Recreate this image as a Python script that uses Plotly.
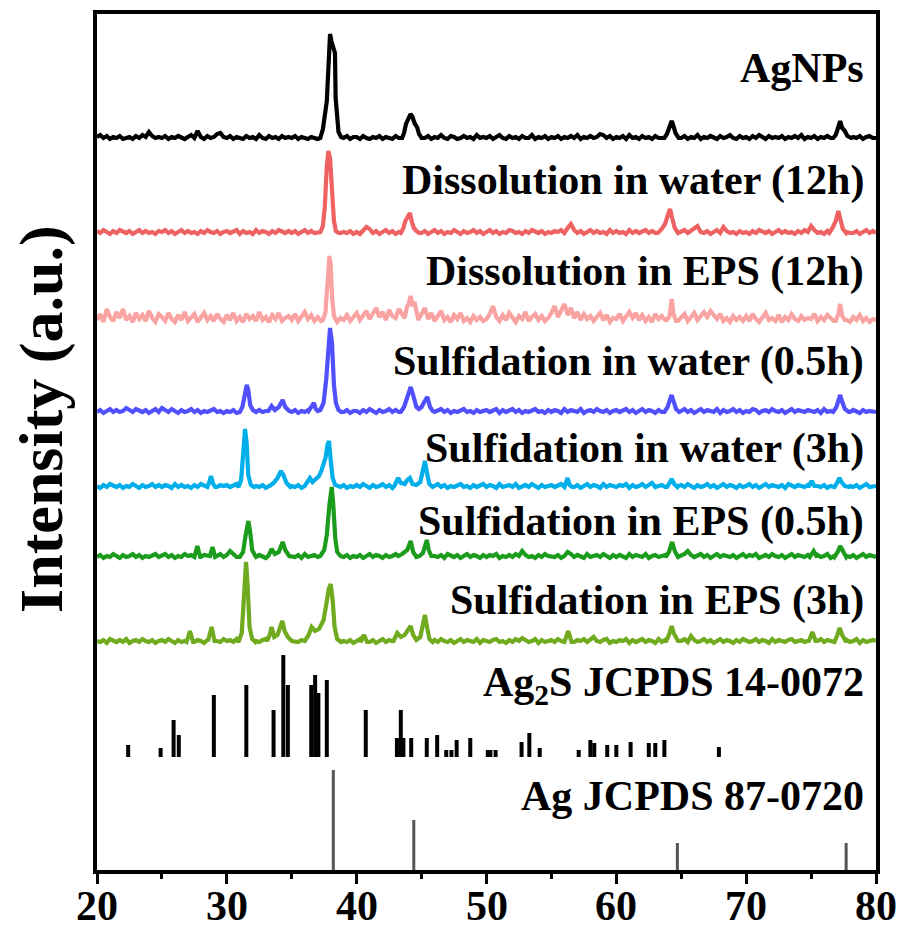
import plotly.graph_objects as go

# 2-theta grid for the background readings (20..80 deg, 0.25 deg step)
STEP = 0.25

names = [
    "AgNPs",
    "Dissolution in water (12h)",
    "Dissolution in EPS (12h)",
    "Sulfidation in water (0.5h)",
    "Sulfidation in water (3h)",
    "Sulfidation in EPS (0.5h)",
    "Sulfidation in EPS (3h)",
]
colors = ["#000000", "#EE6262", "#F9A3A3", "#5050FF", "#00AEEA", "#1C9C1C", "#70AA1E"]
offsets = [729, 634, 544, 455, 380, 310, 225]
label_y = [802, 690, 599, 509, 422, 349, 270]

# background intensity (a.u.), one row per 5 degrees
bg_agnps = [
    4,6,3,5,2,4,3,5,2,3,4,2,5,3,6,4,9,5,3,4,
    3,5,2,4,3,5,3,2,4,6,3,10,4,2,5,3,4,7,8,4,
    3,5,2,4,3,2,5,3,4,2,6,3,2,5,3,4,2,5,3,4,
    3,5,2,4,3,2,4,3,2,0,0,0,0,0,0,0,3,5,2,4,
    4,2,5,3,2,4,3,5,2,4,3,2,5,3,0,0,0,0,0,0,
    0,3,5,2,4,3,6,3,2,5,4,2,3,5,3,4,2,6,3,4,
    3,5,2,4,6,3,2,5,3,4,2,5,3,3,6,2,4,3,5,2,
    4,3,5,2,4,3,5,3,6,2,4,3,5,3,4,7,6,3,5,2,
    4,3,5,2,6,3,4,2,5,3,4,2,5,3,3,0,0,0,0,0,
    3,5,2,4,3,6,2,4,3,5,4,2,5,3,4,6,3,2,5,3,
    4,2,5,3,6,4,2,5,3,4,3,5,2,4,3,5,3,6,2,4,
    3,5,2,4,3,5,3,0,0,0,0,0,0,4,3,5,2,4,5,3,
    3]
bg_dis_w = [
    5,3,6,4,2,5,3,6,4,3,5,2,4,6,3,5,3,4,2,5,
    4,6,3,5,2,4,6,3,5,3,4,2,5,3,6,4,3,5,2,4,
    5,3,4,6,2,5,3,4,2,6,3,5,4,2,5,3,6,4,3,5,
    3,5,2,4,6,3,5,3,3,0,0,0,0,0,0,3,4,3,5,2,
    4,2,5,9,7,3,5,2,4,6,3,5,2,4,0,0,0,0,0,0,
    3,5,2,4,6,3,5,2,4,3,6,4,2,5,3,4,6,3,5,2,
    4,6,3,5,2,4,3,6,5,3,4,2,5,3,6,4,3,5,2,4,
    3,5,4,6,3,8,12,6,3,5,2,4,6,3,5,3,4,2,6,3,
    5,3,4,2,6,3,5,3,4,6,3,5,3,0,0,0,0,0,0,0,
    4,6,3,5,8,10,4,3,5,2,4,6,3,9,5,3,4,2,5,3,
    4,2,5,3,6,4,3,5,2,4,6,3,5,3,4,2,5,3,6,4,
    10,6,3,4,2,5,0,0,0,0,0,4,3,3,5,2,4,6,3,5,
    3]
bg_dis_e = [
    6,12,4,17,9,5,14,8,17,6,10,4,13,7,11,5,15,8,4,12,
    9,5,13,7,4,11,6,14,5,9,12,4,8,13,6,10,5,12,7,4,
    11,6,13,5,9,4,12,7,10,5,14,6,9,4,11,7,13,5,8,10,
    6,12,5,9,14,7,11,5,9,5,0,0,0,0,4,8,6,11,5,9,
    13,6,10,15,7,12,18,9,14,6,16,10,8,17,11,0,0,0,0,0,
    12,18,7,13,5,10,15,6,9,4,11,7,13,5,8,4,10,6,9,5,
    7,12,20,9,5,11,6,13,8,4,10,7,14,5,9,12,6,10,5,8,
    13,20,9,16,22,11,18,8,14,6,12,7,10,5,9,13,6,11,4,8,
    7,12,5,10,14,8,13,6,11,5,9,4,12,7,10,6,0,0,0,5,
    8,12,5,9,13,6,10,14,9,15,11,7,12,5,8,4,10,6,9,5,
    10,5,12,7,4,9,13,6,8,5,11,4,9,6,12,7,5,10,6,8,
    7,12,5,9,6,11,8,5,0,0,0,6,4,9,6,11,5,8,4,7,
    6]
bg_sul_w05 = [
    3,5,2,4,6,3,5,3,4,7,5,3,6,4,3,5,2,4,6,3,
    7,5,3,6,4,2,5,3,4,6,3,5,2,4,3,5,6,3,4,2,
    4,3,5,2,0,0,0,0,0,3,5,3,4,0,0,0,0,0,0,0,
    3,5,2,4,3,5,0,0,0,0,0,0,0,0,0,0,3,5,2,4,
    4,2,5,3,6,4,2,5,3,4,6,3,5,3,0,0,0,0,0,0,
    0,0,0,0,0,4,6,3,5,2,4,3,5,6,3,4,2,5,3,4,
    5,3,4,6,2,5,3,4,6,3,5,2,4,3,5,6,3,4,2,5,
    3,5,4,2,6,3,5,4,3,6,2,4,5,3,6,4,3,5,2,4,
    5,3,4,6,3,5,2,4,6,3,5,4,2,5,3,0,0,0,0,0,
    4,6,3,5,2,4,6,3,5,4,3,6,2,5,3,4,6,3,5,2,
    4,3,6,5,2,4,5,3,6,4,3,5,2,4,6,3,5,4,3,5,
    4,3,5,2,6,3,4,0,0,0,0,0,3,5,4,2,5,3,4,3,
    3]
bg_sul_w3 = [
    4,2,5,3,6,4,3,5,2,4,3,6,4,2,5,3,4,6,3,5,
    3,5,4,2,6,3,5,3,4,2,5,3,6,4,0,0,0,3,5,4,
    5,3,4,6,0,0,0,0,0,4,3,5,2,4,0,0,0,0,0,0,
    4,3,5,2,0,0,0,0,0,0,0,0,0,0,0,3,5,2,4,3,
    5,3,6,4,2,5,3,4,6,3,5,2,0,0,0,0,0,0,0,0,
    0,0,0,0,4,6,3,5,2,4,3,5,6,3,4,2,5,3,4,6,
    3,5,4,2,6,3,4,5,3,6,2,4,5,3,6,4,2,5,3,4,
    5,3,4,6,0,0,0,3,5,2,4,6,3,5,4,2,6,3,5,4,
    3,5,4,6,2,5,3,4,6,3,5,7,3,4,5,3,0,0,0,4,
    5,3,6,4,2,5,3,4,6,3,5,2,4,6,3,5,4,2,5,3,
    4,6,3,5,2,4,6,3,5,4,3,5,2,6,4,3,5,4,3,5,
    0,0,4,3,5,2,4,3,0,0,0,0,4,3,5,2,4,6,3,4,
    4]
bg_sul_e05 = [
    3,5,2,4,3,6,4,2,5,3,4,6,3,5,2,4,3,5,6,3,
    4,6,3,5,2,4,3,6,4,5,0,0,3,5,4,0,0,4,6,3,
    5,9,6,3,0,0,0,0,0,3,5,4,2,0,0,0,0,0,0,0,
    4,3,5,2,6,3,4,5,3,0,0,0,0,0,0,4,3,5,2,4,
    3,5,2,4,6,3,5,4,2,5,3,4,6,0,0,0,0,0,0,0,
    0,0,0,0,4,3,5,2,6,4,3,5,2,4,6,3,5,4,2,5,
    3,5,4,6,2,4,3,5,3,6,4,9,5,3,4,2,5,3,6,4,
    4,3,5,2,4,8,6,3,5,4,2,6,3,4,5,3,6,4,2,5,
    3,5,4,2,6,3,5,4,3,6,2,4,5,3,4,5,0,0,0,0,
    4,6,9,5,3,4,6,3,5,2,4,6,3,5,4,3,5,2,4,6,
    3,5,4,6,2,4,5,3,6,4,3,5,2,4,6,3,5,4,3,5,
    0,0,5,3,4,6,2,4,0,0,0,4,3,5,2,4,6,3,5,4,
    3]
bg_sul_e3 = [
    4,3,5,2,6,4,3,5,3,6,2,4,5,3,6,4,3,5,2,4,
    5,3,6,4,2,5,3,4,0,0,3,5,4,2,5,0,0,4,3,6,
    4,5,3,6,0,0,0,0,0,4,3,5,6,0,0,0,0,0,0,0,
    0,4,3,5,0,0,0,0,0,0,0,0,0,0,0,0,4,3,5,2,
    4,6,0,0,3,5,2,4,6,3,5,4,0,0,0,0,0,0,0,0,
    0,0,0,0,5,3,6,4,3,5,2,4,6,3,5,4,3,6,2,5,
    4,3,5,6,3,4,2,5,3,6,4,7,5,3,4,6,2,5,3,4,
    5,3,6,4,0,0,0,3,5,4,6,3,5,8,4,3,5,6,2,4,
    3,5,4,6,2,5,3,4,6,3,5,4,2,6,3,5,0,0,0,4,
    4,6,3,9,5,3,4,6,3,5,2,4,6,3,5,4,2,5,3,6,
    5,3,4,6,3,5,4,2,6,3,5,4,3,5,6,3,4,5,3,4,
    0,0,4,6,3,5,4,3,0,0,0,5,3,4,6,2,5,3,4,5,
    4]

# diffraction peaks: (2-theta, intensity a.u.)
pk_agnps = [
    [(37.2,3),(37.4,12),(37.7,40),(37.85,85),(37.95,107),(38.05,100),(38.2,92),(38.33,88),(38.38,43),(38.5,18),(38.6,9),(38.8,4)],
    [(43.5,3),(43.65,8),(43.8,17),(44.0,23),(44.15,27),(44.3,24),(44.45,18),(44.65,14),(44.8,7),(45.0,3)],
    [(63.7,3),(63.9,7),(64.1,14),(64.26,20),(64.4,15),(64.55,8),(64.8,3)],
    [(76.7,3),(76.9,6),(77.1,14),(77.24,20),(77.4,13),(77.6,10),(77.8,5),(78.1,3)],
]
pk_dis_w = [
    [(37.2,4),(37.4,10),(37.55,30),(37.7,70),(37.82,85),(37.95,78),(38.1,45),(38.25,15),(38.4,5),(38.6,3)],
    [(43.4,3),(43.6,8),(43.75,15),(43.95,20),(44.1,23),(44.25,14),(44.4,8),(44.6,5),(44.8,3)],
    [(63.2,3),(63.5,7),(63.75,12),(63.95,20),(64.14,27),(64.3,18),(64.5,8),(64.75,3)],
    [(76.4,3),(76.65,8),(76.9,15),(77.1,25),(77.25,16),(77.45,7),(77.7,3)],
]
pk_dis_e = [
    [(37.4,6),(37.6,14),(37.75,45),(37.9,70),(38.0,62),(38.1,30),(38.25,10),(38.45,5)],
    [(43.7,8),(43.85,18),(44.0,22),(44.16,30),(44.3,20),(44.45,24),(44.6,12),(44.75,6)],
    [(63.9,6),(64.1,10),(64.27,27),(64.4,12),(64.6,5)],
    [(76.9,5),(77.1,12),(77.24,22),(77.4,10),(77.6,6)],
]
pk_sul_w05 = [
    [(31.0,3),(31.2,8),(31.4,22),(31.53,30),(31.65,25),(31.8,10),(32.0,5),(32.2,3)],
    [(33.2,4),(33.45,9),(33.7,5),(34.0,8),(34.3,15),(34.5,8),(34.8,4)],
    [(36.3,4),(36.55,8),(36.7,12),(36.85,6),(37.0,4)],
    [(37.2,5),(37.45,12),(37.65,35),(37.8,70),(37.95,87),(38.1,72),(38.25,30),(38.4,12),(38.6,5),(38.8,3)],
    [(43.4,3),(43.65,8),(43.9,18),(44.16,28),(44.35,20),(44.6,8),(44.8,6),(45.0,8),(45.2,13),(45.45,18),(45.65,8),(45.85,4),(46.0,3)],
    [(63.7,3),(63.95,8),(64.15,16),(64.26,20),(64.4,14),(64.6,6),(64.85,3)],
    [(76.7,3),(76.95,8),(77.12,16),(77.24,20),(77.4,13),(77.6,6),(77.9,3)],
]
pk_sul_w3 = [
    [(28.5,3),(28.65,8),(28.78,14),(28.95,6),(29.1,3)],
    [(30.9,3),(31.1,10),(31.25,35),(31.4,61),(31.52,48),(31.65,15),(31.85,5),(32.1,3)],
    [(33.3,4),(33.6,7),(33.9,12),(34.17,19),(34.35,15),(34.6,7),(34.9,3)],
    [(36.0,4),(36.2,8),(36.4,12),(36.6,8),(36.8,10),(37.1,14),(37.3,20),(37.43,26),(37.6,32),(37.75,45),(37.87,49),(38.0,30),(38.15,12),(38.35,5),(38.6,3)],
    [(42.9,4),(43.05,8),(43.2,12),(43.4,7),(43.7,6),(43.9,10),(44.1,12),(44.3,6),(44.6,5),(44.9,8),(45.1,20),(45.26,29),(45.4,18),(45.6,6),(45.85,3)],
    [(56.0,3),(56.15,7),(56.25,12),(56.4,5),(56.6,3)],
    [(63.9,3),(64.1,7),(64.26,11),(64.45,6),(64.7,3)],
    [(74.8,3),(75.05,9),(75.25,4)],
    [(76.8,3),(77.0,7),(77.18,12),(77.35,8),(77.6,4),(77.9,3)],
]
pk_sul_e05 = [
    [(27.5,3),(27.73,14),(27.95,3)],
    [(28.7,4),(28.9,13),(29.1,3)],
    [(31.0,3),(31.25,8),(31.45,25),(31.66,39),(31.8,28),(31.95,10),(32.2,4)],
    [(33.2,4),(33.45,11),(33.7,6),(34.0,8),(34.3,18),(34.5,10),(34.8,4)],
    [(37.2,4),(37.5,10),(37.7,25),(37.9,55),(38.08,73),(38.2,55),(38.35,22),(38.5,8),(38.7,4)],
    [(43.2,4),(43.5,6),(43.9,10),(44.16,19),(44.35,8),(44.6,3),(44.85,4),(45.1,7),(45.25,13),(45.4,20),(45.55,10),(45.75,4)],
    [(63.8,3),(64.05,8),(64.3,18),(64.5,9),(64.75,3)],
    [(74.9,3),(75.2,9),(75.45,3)],
    [(76.8,3),(77.05,8),(77.24,14),(77.45,8),(77.7,3)],
]
pk_sul_e3 = [
    [(26.9,3),(27.16,14),(27.4,3)],
    [(28.55,4),(28.83,18),(29.05,4)],
    [(30.9,3),(31.15,12),(31.3,45),(31.48,83),(31.6,60),(31.75,18),(31.95,6),(32.2,3)],
    [(33.1,4),(33.3,10),(33.45,18),(33.65,8),(33.9,10),(34.1,19),(34.27,24),(34.45,14),(34.7,8),(35.0,4)],
    [(36.0,4),(36.3,10),(36.53,18),(36.8,14),(37.1,16),(37.3,21),(37.45,25),(37.65,40),(37.85,56),(38.0,61),(38.15,45),(38.3,18),(38.5,6),(38.8,3)],
    [(40.3,3),(40.57,10),(40.8,3)],
    [(42.8,3),(43.13,12),(43.4,8),(43.7,10),(43.95,15),(44.16,19),(44.35,10),(44.6,5),(44.9,8),(45.1,20),(45.26,30),(45.42,18),(45.6,6),(45.85,3)],
    [(56.0,3),(56.3,14),(56.55,3)],
    [(63.8,3),(64.05,10),(64.26,19),(64.45,11),(64.7,4)],
    [(74.8,3),(75.1,13),(75.35,4)],
    [(76.8,3),(77.0,9),(77.2,17),(77.4,10),(77.7,3)],
]

backgrounds = [bg_agnps, bg_dis_w, bg_dis_e, bg_sul_w05, bg_sul_w3, bg_sul_e05, bg_sul_e3]
peak_sets = [pk_agnps, pk_dis_w, pk_dis_e, pk_sul_w05, pk_sul_w3, pk_sul_e05, pk_sul_e3]

# reference patterns (stick positions, relative intensity)
ag2s_pos = [22.4, 24.9, 25.9, 26.3, 29.0, 31.5, 33.6, 34.35, 34.7, 36.5, 36.8, 37.05, 37.7,
            40.7, 43.1, 43.4, 43.6, 44.2, 45.4, 46.2, 46.9, 47.3, 47.7, 48.75, 50.1, 50.3,
            50.7, 52.7, 53.3, 54.1, 57.1, 58.0, 58.3, 59.3, 60.0, 61.1, 62.5, 63.0, 63.7, 67.9]
ag2s_int = [12, 9, 37, 22, 62, 72, 47, 102, 72, 72, 82, 64, 77,
            47, 19, 47, 19, 19, 19, 22, 7, 7, 17, 19, 7, 7,
            7, 15, 24, 9, 7, 17, 14, 12, 12, 15, 14, 14, 17, 10]
ag2s_base = 113
ag_pos = [38.2, 44.4, 64.7, 77.7]
ag_int = [100, 50, 27, 27]

x_ticks = [20, 30, 40, 50, 60, 70, 80]
x_ticktext = ["20", "30", "40", "50", "60", "70", "80"]

SERIF = "Liberation Serif"


def merge(bg, peaks):
    grid = [20 + STEP * i for i in range(len(bg))]
    windows = [(p[0][0], p[-1][0]) for p in peaks]
    pts = [(x, v) for x, v in zip(grid, bg)
           if not any(a <= x <= b for a, b in windows)]
    for p in peaks:
        pts.extend(p)
    pts.sort()
    return [p[0] for p in pts], [p[1] for p in pts]


def sticks(pos, inten, base):
    xs, ys = [], []
    for p, h in zip(pos, inten):
        xs += [p, p, None]
        ys += [base, base + h, None]
    return xs, ys


fig = go.Figure()

for name, bg, pk, col, off in zip(names, backgrounds, peak_sets, colors, offsets):
    xs, vs = merge(bg, pk)
    fig.add_trace(go.Scatter(x=xs, y=[off + v for v in vs], mode="lines", name=name,
                             line=dict(color=col, width=4.2), hoverinfo="skip"))

sx, sy = sticks(ag2s_pos, ag2s_int, ag2s_base)
fig.add_trace(go.Scatter(x=sx, y=sy, mode="lines", name="Ag2S JCPDS 14-0072",
                         line=dict(color="#000000", width=4)))
sx, sy = sticks(ag_pos, ag_int, 0)
fig.add_trace(go.Scatter(x=sx, y=sy, mode="lines", name="Ag JCPDS 87-0720",
                         line=dict(color="#555555", width=3)))

labels = names + ["Ag<sub>2</sub>S JCPDS 14-0072", "Ag JCPDS 87-0720"]
lab_y = label_y + [185, 74]
for text, y in zip(labels, lab_y):
    fig.add_annotation(x=79.25, y=y, xref="x", yref="y", text=text, showarrow=False,
                       xanchor="right", yanchor="middle",
                       font=dict(family=SERIF, size=42, color="#000000", weight="bold"))

fig.add_annotation(x=-0.0706, y=0.527, xref="paper", yref="paper", text="Intensity (a.u.)",
                   textangle=-90, showarrow=False, xanchor="center", yanchor="middle",
                   font=dict(family=SERIF, size=62, color="#000000", weight="bold"))

# x tick labels, set just under the tick marks
for v, t in zip(x_ticks, x_ticktext):
    fig.add_annotation(x=v, y=-0.042, xref="x", yref="paper", text=t, showarrow=False,
                       xanchor="center", yanchor="middle",
                       font=dict(family=SERIF, size=42, color="#000000", weight="bold"))

fig.update_xaxes(range=[20, 80], tickvals=x_ticks, showticklabels=False,
                 ticks="outside", ticklen=10, tickwidth=3,
                 tickcolor="#000000", showline=True, linecolor="#000000", linewidth=4,
                 mirror=True, showgrid=False, zeroline=False, automargin=False,
                 minor=dict(dtick=5, ticks="outside", ticklen=5, tickwidth=3, tickcolor="#000000"))
fig.update_yaxes(range=[0, 856], showticklabels=False, ticks="", showline=True,
                 linecolor="#000000", linewidth=4, mirror=True, showgrid=False, zeroline=False,
                 automargin=False)

fig.update_layout(width=903, height=933, margin=dict(l=97, r=27, t=14, b=63),
                  plot_bgcolor="#FFFFFF", paper_bgcolor="#FFFFFF", showlegend=False)

fig.write_html("out.html")
